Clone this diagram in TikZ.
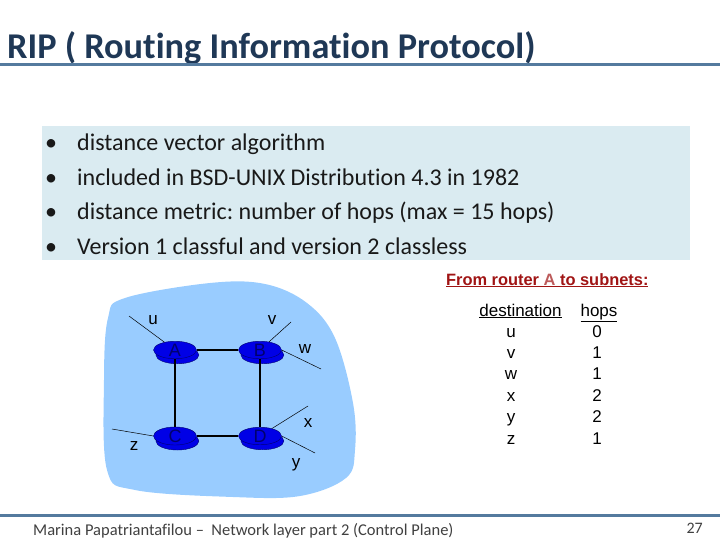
\documentclass[tikz,border=0pt]{standalone}
\usepackage{fontspec}
\setmainfont{Carlito}[Ligatures=CommonOff]
\newfontfamily\arialfont{Liberation Sans}
\usetikzlibrary{positioning, shapes.geometric, shadows}
\definecolor{titlenavy}{RGB}{31,56,86}
\definecolor{ruleblue}{RGB}{84,122,158}
\definecolor{boxblue}{RGB}{218,235,241}
\definecolor{cloudblue}{RGB}{153,204,255}
\definecolor{routerblue}{RGB}{0,0,230}
\definecolor{labelnavy}{RGB}{0,0,110}
\definecolor{headred}{RGB}{160,20,20}
\frenchspacing
\tikzset{
    slide/.style={x=1pt, y=-1pt},
    router/.style={ellipse, draw=labelnavy, fill=routerblue, minimum width=43pt, minimum height=15pt,
        inner sep=0pt, font=\arialfont\fontsize{18}{18}\selectfont, text=labelnavy,
        copy shadow={shadow yshift=-5pt, draw=labelnavy, fill=routerblue}},
    link/.style={line width=1.6pt},
    stub/.style={line width=0.5pt},
    subnet/.style={font=\arialfont\fontsize{17}{17}\selectfont},
    bulletline/.style={anchor=base west, font=\fontsize{24}{24}\selectfont, text=black!90},
    tablecell/.style={anchor=base, font=\arialfont\fontsize{17}{17}\selectfont},
    rule/.style={ruleblue, line width=3pt},
}

\begin{document}
\begin{tikzpicture}[slide]
    \useasboundingbox (0,0) rectangle (720,540);

    % title and rules
    \node[anchor=base west, inner sep=0pt, font=\bfseries\fontsize{36.3}{36.3}\selectfont, text=titlenavy]
        (title) at (7,59) {RIP ( Routing Information Protocol)};
    \draw[rule] (0,65) -- (720,65);
    \draw[rule] (0,515) -- (720,515);

    % bullet box
    \fill[boxblue] (42,126) rectangle (690,260);
    \foreach \txt [count=\i] in {distance vector algorithm,
            included in BSD-UNIX Distribution 4.3 in 1982,
            distance metric: number of hops (max = 15 hops),
            Version 1 classful and version 2 classless} {
        \node[bulletline, inner sep=0pt] (item\i) at (77,151+34.5*\i-34.5) {\txt};
        \node[bulletline, inner sep=0pt] (dot\i) at (45,151+34.5*\i-34.5) {\textbullet};
    }

    % network cloud
    \fill[cloudblue] plot[smooth cycle, tension=0.6] coordinates {(108,318) (125,298) (210,283) (265,284)
        (307,303) (335,338) (353,403) (355,450) (346,478) (300,496) (233,497) (135,490) (107,470) (104,380)};

    \node[router] (A) at (175,350) {A};
    \node[router] (B) at (260,350) {B};
    \node[router] (C) at (175,436) {C};
    \node[router] (D) at (260,436) {D};

    \draw[link] (A) -- (B);
    \draw[link] (A) -- (C);
    \draw[link] (B) -- (D);
    \draw[link] (C) -- (D);

    \coordinate (uend) at (129,316);
    \coordinate (vend) at (291,322);
    \coordinate (wend) at (321,369);
    \coordinate (xend) at (308,406);
    \coordinate (yend) at (315,453);
    \coordinate (zend) at (112,429);
    \draw[stub] (A) -- (uend);
    \draw[stub] (B) -- (vend);
    \draw[stub] (B.east) -- (wend);
    \draw[stub] (D) -- (xend);
    \draw[stub] (D.east) -- (yend);
    \draw[stub] (C.west) -- (zend);

    \node[subnet] (u) at (153,320) {u};
    \node[subnet] (v) at (272,320) {v};
    \node[subnet] (w) at (305,349) {w};
    \node[subnet] (x) at (308,423) {x};
    \node[subnet] (y) at (296,465) {y};
    \node[subnet] (z) at (134,446) {z};

    % distance table
    \node[anchor=base west, inner sep=0pt, font=\arialfont\bfseries\fontsize{16.4}{16.4}\selectfont, text=headred]
        (head) at (446,285) {\underline{From router \textcolor{headred!70}{A} to subnets:}};
    \node[tablecell] (dest) at (520.5,316) {\underline{destination}};
    \node[tablecell] (hops) at (599,316) {\underline{hops}};
    \foreach \d/\h [count=\i] in {u/0, v/1, w/1, x/2, y/2, z/1} {
        \node[tablecell] (dest\i) at (511,337+21.4*\i-21.4) {\d};
        \node[tablecell] (hops\i) at (597,337+21.4*\i-21.4) {\h};
    }

    % footer
    \node[anchor=base west, inner sep=0pt, font=\fontsize{16.5}{16.5}\selectfont, text=black!75]
        (foot) at (33,535) {Marina Papatriantafilou --\ \ Network layer part 2 (Control Plane)};
    \node[anchor=base east, inner sep=0pt, font=\fontsize{16}{16}\selectfont, text=black!75]
        (page) at (703,533) {27};
\end{tikzpicture}
\end{document}
